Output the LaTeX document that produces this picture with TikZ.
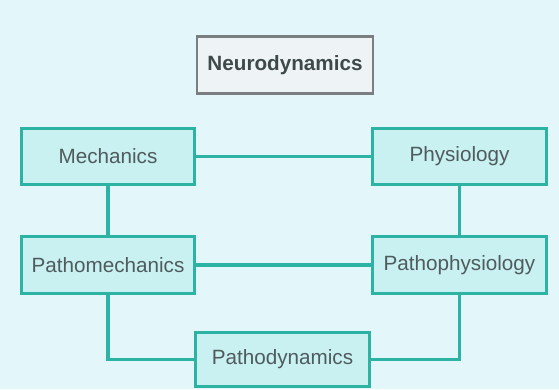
\documentclass[tikz,border=0pt]{standalone}
\usepackage{fontspec}
\setmainfont{Liberation Sans}
\usepackage{tikz}
\usetikzlibrary{positioning}

\definecolor{bgcol}{HTML}{E3F6FA}
\definecolor{tealline}{HTML}{2DB3A4}
\definecolor{boxfill}{HTML}{C9F1F2}
\definecolor{textgray}{HTML}{4F5B5C}
\definecolor{topline}{HTML}{7A7E80}
\definecolor{topfill}{HTML}{EEF4F6}

\begin{document}
\begin{tikzpicture}[x=0.75pt, y=-0.75pt,
    box/.style={draw=tealline, line width=2.2pt, fill=boxfill, text=textgray,
                minimum width=130pt, minimum height=42.5pt, inner sep=2pt,
                font=\fontsize{15.5}{18}\selectfont},
    topbox/.style={draw=topline, line width=2pt, fill=topfill, text=textgray!80!black,
                minimum width=132pt, minimum height=43pt,
                font=\fontsize{15.5}{18}\selectfont\bfseries},
    link/.style={tealline, line width=2.6pt}]

    % background and page size
    \fill[bgcol] (0,0) rectangle (559,389);
    \useasboundingbox (0,0) rectangle (559,389);

    % title box
    \node[topbox] (neuro) at (285,65) {Neurodynamics};

    % the four corner boxes
    \node[box] (mech) at (108,156.5) {Mechanics};
    \node[box] (phys) at (459.5,156.5) {Physiology};
    \node[box] (pmech) at (108,265) {Pathomechanics};
    \node[box] (pphys) at (459.5,265) {Pathophysiology};

    % bottom box
    \node[box, minimum height=41pt] (pdyn) at (282.5,359.5) {Pathodynamics};

    % connections
    \draw[link] (mech) -- (phys);
    \draw[link] (mech) -- (pmech);
    \draw[link] (phys) -- (pphys);
    \draw[link] (pmech) -- (pphys);
    \draw[link] (pmech.south) |- (pdyn.west);
    \draw[link] (pphys.south) |- (pdyn.east);

\end{tikzpicture}
\end{document}
